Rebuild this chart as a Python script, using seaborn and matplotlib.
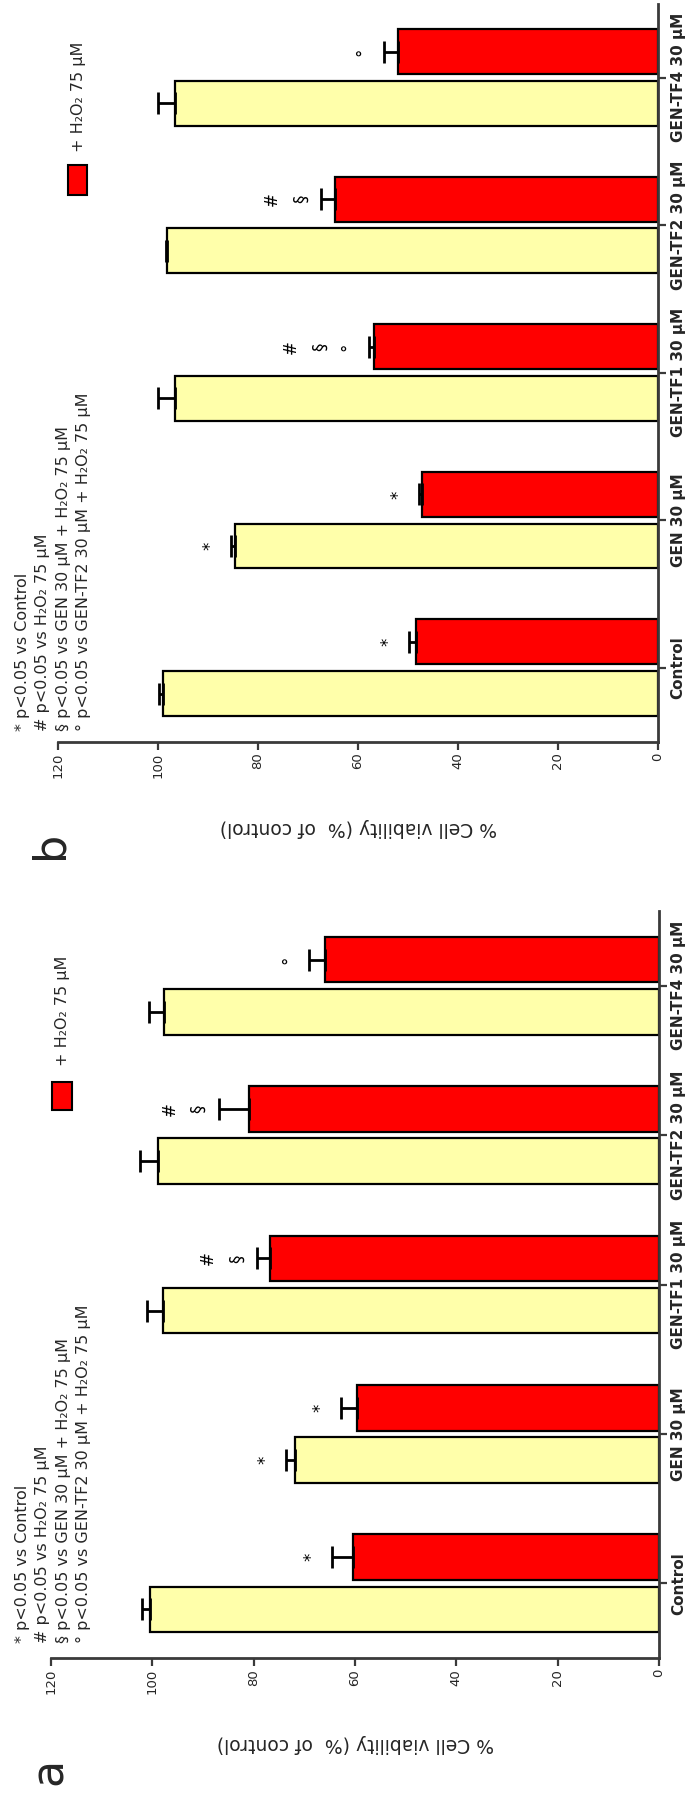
import numpy as np
import pandas as pd
import matplotlib
matplotlib.use("Agg")
import matplotlib.pyplot as plt
from matplotlib.patches import Rectangle
import seaborn as sns

# ---- data -------------------------------------------------------------
categories = ["Control", "GEN 30 μM", "GEN-TF1 30 μM", "GEN-TF2 30 μM", "GEN-TF4 30 μM"]
groups = ["Untreated", "+ H₂O₂ 75 μM"]

# panel a
a_plain = [100.4, 71.8, 97.8, 98.8, 97.6]
a_plain_err = [1.6, 1.8, 3.3, 3.6, 3.1]
a_h2o2 = [60.3, 59.6, 76.7, 81.0, 65.9]
a_h2o2_err = [4.3, 3.2, 2.6, 5.9, 3.1]
a_plain_marks = ["", "*", "", "", ""]
a_h2o2_marks = ["*", "*", "#\n§", "#\n§", "°"]

# panel b
b_plain = [99.0, 84.7, 96.6, 98.2, 96.6]
b_plain_err = [0.8, 0.8, 3.4, 0.3, 3.4]
b_h2o2 = [48.5, 47.3, 56.9, 64.7, 52.1]
b_h2o2_err = [1.4, 0.5, 1.0, 2.7, 2.8]
b_plain_marks = ["", "*", "", "", ""]
b_h2o2_marks = ["*", "*", "#\n§\n°", "#\n§", "°"]

notes = [
    "* p<0.05 vs Control",
    "# p<0.05 vs H₂O₂ 75 μM",
    "§ p<0.05 vs GEN 30 μM + H₂O₂ 75 μM",
    "° p<0.05 vs GEN-TF2 30 μM + H₂O₂ 75 μM",
]
value_ticks = [0, 20, 40, 60, 80, 100, 120]
value_label = "% Cell viability (%  of control)"

# ---- style ------------------------------------------------------------
YELLOW = "#FFFFAA"
RED = "#FF0000"
AXIS = "#3a3a3a"

sns.set_style("ticks")
plt.rcParams["font.family"] = ["DejaVu Sans"]

W, H = 687, 1798
fig = plt.figure(figsize=(W / 100, H / 100), dpi=100)
fig.patch.set_facecolor("white")


def fx(px):
    return px / W


def fy(py):
    return 1 - py / H


def draw_panel(ax, plain, plain_err, h2o2, h2o2_err, plain_marks, h2o2_marks):
    df = pd.DataFrame({
        "category": categories * 2,
        "group": [groups[0]] * len(categories) + [groups[1]] * len(categories),
        "viability": plain + h2o2,
    })
    order = categories[::-1]
    hue_order = [groups[1], groups[0]]
    sns.barplot(data=df, x="viability", y="category", hue="group",
                order=order, hue_order=hue_order,
                palette={groups[0]: YELLOW, groups[1]: RED}, saturation=1,
                orient="h", width=0.70, gap=0.13, errorbar=None,
                edgecolor="black", linewidth=1.6, legend=False, ax=ax)

    errs = {groups[0]: plain_err, groups[1]: h2o2_err}
    marks = {groups[0]: plain_marks, groups[1]: h2o2_marks}
    for grp, cont in zip(hue_order, ax.containers):
        for p in cont.patches:
            yc = p.get_y() + p.get_height() / 2
            cat = order[int(round(yc))]
            i = categories.index(cat)
            val = p.get_width()
            e = errs[grp][i]
            ax.errorbar(val, yc, xerr=[[0], [e]], fmt="none", ecolor="black",
                        elinewidth=2.0, capsize=8, capthick=2.0, zorder=3)
            m = marks[grp][i]
            if m:
                ax.text(val + e + 2.3, yc, m, rotation=90, ha="right", va="center",
                        multialignment="center", fontsize=12, linespacing=1.75,
                        color="black")

    ax.set_xlim(120, 0)
    ax.set_ylim(len(categories) - 0.5, -0.5)
    ax.set_xticks(value_ticks)
    ax.spines["top"].set_visible(False)
    ax.spines["left"].set_visible(False)
    for s in ("right", "bottom"):
        ax.spines[s].set_linewidth(2.0)
        ax.spines[s].set_color(AXIS)
    ax.yaxis.tick_right()
    ax.tick_params(axis="x", direction="out", length=6, width=1.6, color=AXIS,
                   labelrotation=90, labelsize=9.5, pad=2)
    ax.tick_params(axis="y", direction="out", length=6, width=1.6, color=AXIS,
                   labelrotation=90, labelsize=11, pad=3)
    for lab in ax.get_yticklabels():
        lab.set_va("center")
        lab.set_fontweight("bold")
    ax.set_ylabel("")
    ax.set_xlabel(value_label, rotation=180, fontsize=13.5, va="center")


# panel b (upper)
ax_b = fig.add_axes([fx(58), fy(741.5), fx(600), 737.7 / H])
draw_panel(ax_b, b_plain, b_plain_err, b_h2o2, b_h2o2_err, b_plain_marks, b_h2o2_marks)
ax_b.xaxis.set_label_coords(0.5, -(828 - 741.5) / 737.7)

# panel a (lower)
ax_a = fig.add_axes([fx(51), fy(1658), fx(608), 747 / H])
draw_panel(ax_a, a_plain, a_plain_err, a_h2o2, a_h2o2_err, a_plain_marks, a_h2o2_marks)
ax_a.xaxis.set_label_coords(0.5, -(1743 - 1658) / 747)

# legends (drawn as a filled key plus rotated label)
for (bx, by, bw, bh, tx, ty) in [(68, 165, 19, 30, 79, 152), (52, 1082, 20, 28, 63, 1066)]:
    fig.add_artist(Rectangle((fx(bx), fy(by + bh)), fx(bw), bh / H,
                             facecolor=RED, edgecolor="black", linewidth=1.5,
                             transform=fig.transFigure))
    fig.text(fx(tx), fy(ty), groups[1], rotation=90, ha="center", va="bottom",
             fontsize=11.5)

# significance notes
for (nx, ny) in [(15, 731), (15, 1643)]:
    fig.text(fx(nx), fy(ny), "\n".join(notes), rotation=90, ha="left", va="bottom",
             multialignment="left", fontsize=11.5, linespacing=1.45)

# panel letters
fig.text(fx(50), fy(845), "b", rotation=90, ha="center", va="center", fontsize=32)
fig.text(fx(49), fy(1771), "a", rotation=90, ha="center", va="center", fontsize=32)

fig.savefig("out.png", dpi=100, facecolor="white")
